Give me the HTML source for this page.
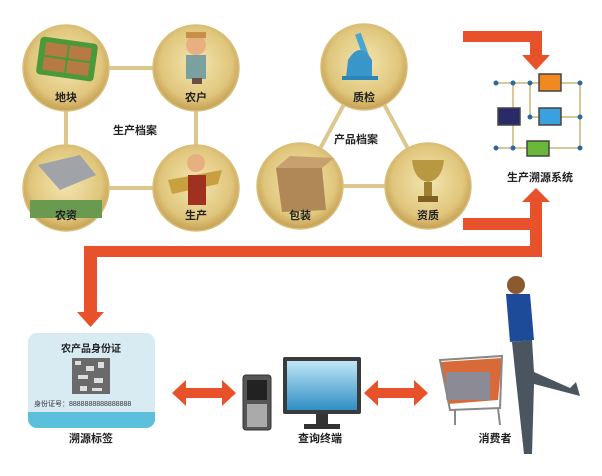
<!DOCTYPE html>
<html><head><meta charset="utf-8"><style>
html,body{margin:0;padding:0;background:#fff;}
svg{display:block;font-family:"Liberation Sans","Noto Sans CJK SC",sans-serif;}
.l{font-size:11px;font-weight:bold;fill:#222;text-anchor:middle;}
</style></head><body>
<svg width="602" height="476" viewBox="0 0 602 476">
<defs>
<radialGradient id="g" cx="50%" cy="45%" r="55%">
<stop offset="0" stop-color="#f3e5b0"/><stop offset="0.75" stop-color="#e0c67c"/><stop offset="1" stop-color="#c49f52"/>
</radialGradient>
<linearGradient id="scr" x1="0" y1="0" x2="0" y2="1"><stop offset="0" stop-color="#bfe6f7"/><stop offset="1" stop-color="#2f8fc4"/></linearGradient>
</defs>
<g stroke="#dcc88e" stroke-width="4">
<line x1="66" y1="68" x2="196" y2="68"/><line x1="66" y1="68" x2="66" y2="188"/>
<line x1="196" y1="68" x2="196" y2="188"/><line x1="66" y1="188" x2="196" y2="188"/>
<line x1="364" y1="67" x2="300" y2="186"/><line x1="364" y1="67" x2="428" y2="186"/><line x1="300" y1="186" x2="428" y2="186"/>
</g>
<g fill="url(#g)" stroke="#d9c07a" stroke-width="1.5">
<circle cx="66" cy="68" r="43"/><circle cx="196" cy="68" r="43"/>
<circle cx="66" cy="188" r="43"/><circle cx="196" cy="188" r="43"/>
<circle cx="364" cy="67" r="43"/><circle cx="300" cy="186" r="43"/><circle cx="428" cy="186" r="43"/>
</g>
<rect x="38" y="40" width="58" height="38" rx="4" fill="#4a9a3a" transform="rotate(8 67 59)"/>
<rect x="44" y="45" width="22" height="13" fill="#b87a45" transform="rotate(8 67 59)"/>
<rect x="68" y="45" width="22" height="13" fill="#b87a45" transform="rotate(8 67 59)"/>
<rect x="44" y="60" width="22" height="13" fill="#b87a45" transform="rotate(8 67 59)"/>
<rect x="68" y="60" width="22" height="13" fill="#b87a45" transform="rotate(8 67 59)"/>
<circle cx="196" cy="45" r="10" fill="#e8b080"/><rect x="186" y="32" width="20" height="6" fill="#c89048"/>
<rect x="186" y="55" width="20" height="24" fill="#7aa0a0"/><rect x="192" y="78" width="10" height="6" fill="#6a5040"/>
<path d="M38 165 L80 155 L96 175 L60 190 Z" fill="#a0a4a8"/><rect x="30" y="200" width="72" height="18" fill="#6a9a50"/>
<circle cx="196" cy="163" r="9" fill="#e8b080"/><path d="M168 180 L222 170 L218 184 L172 194 Z" fill="#c9a040"/>
<rect x="188" y="175" width="18" height="30" fill="#a03020"/>
<rect x="359" y="33" width="6" height="24" fill="#4aa6d0" transform="rotate(-20 362 45)"/>
<path d="M348 60 Q360 40 372 60 L372 78 L346 78 Z" fill="#3a96c8"/><rect x="342" y="76" width="36" height="4" fill="#2a86b8"/>
<path d="M276 168 L322 168 L326 210 L282 212 Z" fill="#b08858"/><path d="M276 168 L290 156 L334 158 L322 168 Z" fill="#c8a070"/>
<path d="M412 160 L444 160 Q442 180 428 182 Q414 180 412 160 Z" fill="#b89840"/><rect x="424" y="182" width="8" height="14" fill="#a08030"/><rect x="418" y="196" width="20" height="6" fill="#806020"/>
<text class="l" x="66" y="101">地块</text><text class="l" x="196" y="101">农户</text>
<text class="l" x="66" y="219">农资</text><text class="l" x="196" y="219">生产</text>
<text class="l" x="135" y="134">生产档案</text>
<text class="l" x="364" y="101">质检</text><text class="l" x="300" y="219">包装</text><text class="l" x="428" y="219">资质</text>
<text class="l" x="356" y="143">产品档案</text>
<g stroke="#d8c89a" stroke-width="2" fill="none">
<line x1="496" y1="83" x2="580" y2="83"/><line x1="496" y1="148" x2="580" y2="148"/>
<line x1="530" y1="117" x2="580" y2="117"/><line x1="513" y1="83" x2="513" y2="148"/>
<line x1="530" y1="83" x2="530" y2="117"/><line x1="580" y1="83" x2="580" y2="148"/>
</g>
<g fill="#2a6a9a"><circle cx="496" cy="83" r="2.5"/><circle cx="513" cy="83" r="2.5"/><circle cx="530" cy="83" r="2.5"/><circle cx="580" cy="83" r="2.5"/><circle cx="530" cy="117" r="2.5"/><circle cx="580" cy="117" r="2.5"/><circle cx="496" cy="148" r="2.5"/><circle cx="513" cy="148" r="2.5"/><circle cx="580" cy="148" r="2.5"/></g>
<rect x="539" y="74" width="22" height="17" fill="#f08a20" stroke="#444" stroke-width="1.5"/>
<rect x="498" y="108" width="22" height="17" fill="#2a2a6a" stroke="#444" stroke-width="1.5"/>
<rect x="539" y="108" width="22" height="17" fill="#3aa0e0" stroke="#444" stroke-width="1.5"/>
<rect x="527" y="141" width="22" height="15" fill="#6ab83a" stroke="#444" stroke-width="1.5"/>
<text class="l" x="540" y="181">生产溯源系统</text>
<g fill="#e8522a">
<rect x="463" y="31" width="79" height="11"/><rect x="530" y="31" width="12" height="26"/>
<polygon points="522,55 550,55 536,70"/>
<rect x="463" y="218" width="79" height="12"/><rect x="530" y="200" width="12" height="57"/>
<polygon points="522,202 550,202 536,188"/>
<rect x="84" y="246" width="458" height="11"/><rect x="84" y="246" width="13" height="68"/>
<polygon points="77,312 104,312 90.5,327"/>
<polygon points="172,393 186,380 186,388 222,388 222,380 236,393 222,406 222,398 186,398 186,406"/>
<polygon points="364,393 378,380 378,388 414,388 414,380 428,393 414,406 414,398 378,398 378,406"/>
</g>
<rect x="28" y="333" width="127" height="95" rx="9" fill="#d8eaf2"/>
<path d="M28 412 H155 V419 a9 9 0 0 1 -9 9 H37 a9 9 0 0 1 -9 -9 Z" fill="#5cc0dc"/>
<text x="91" y="352" font-size="10" font-weight="bold" fill="#222" text-anchor="middle">农产品身份证</text>
<rect x="72" y="358" width="38" height="36" fill="#6a6a6a"/>
<g fill="#ddd"><rect x="75" y="361" width="6" height="4"/><rect x="86" y="366" width="8" height="5"/><rect x="98" y="362" width="6" height="6"/><rect x="78" y="375" width="10" height="4"/><rect x="94" y="378" width="9" height="5"/><rect x="80" y="386" width="7" height="5"/><rect x="92" y="388" width="10" height="3"/></g>
<text x="34" y="406" font-size="7" fill="#333">身份证号：8888888888888888</text>
<text class="l" x="91" y="442">溯源标签</text>
<rect x="243" y="375" width="28" height="55" rx="3" fill="#555" stroke="#333"/>
<rect x="247" y="380" width="20" height="20" fill="#222"/>
<rect x="247" y="404" width="20" height="23" fill="#aaa"/>
<rect x="283" y="357" width="78" height="57" rx="2" fill="#3a3a3a"/>
<rect x="287" y="361" width="70" height="49" fill="url(#scr)"/>
<rect x="316" y="414" width="12" height="10" fill="#333"/><rect x="304" y="424" width="36" height="5" fill="#333"/>
<text class="l" x="320" y="442">查询终端</text>
<path d="M440 362 L502 358 L498 400 L448 404 Z" fill="#d86a3a"/>
<rect x="446" y="372" width="44" height="28" fill="#5aa0d0" opacity="0.6"/>
<g stroke="#888" stroke-width="2" fill="none"><path d="M440 360 L502 356 L500 408 L450 410 Z"/><line x1="455" y1="410" x2="455" y2="425"/><line x1="498" y1="408" x2="500" y2="425"/></g>
<circle cx="516" cy="285" r="9" fill="#8a5a30"/>
<path d="M506 294 L530 294 L534 340 L510 342 Z" fill="#1e4a9a"/>
<path d="M512 342 L532 340 L534 372 L570 388 L576 382 L580 396 L534 384 L532 454 L524 454 L516 380 Z" fill="#4a5560"/>
<text class="l" x="495" y="442">消费者</text>
</svg>
</body></html>
